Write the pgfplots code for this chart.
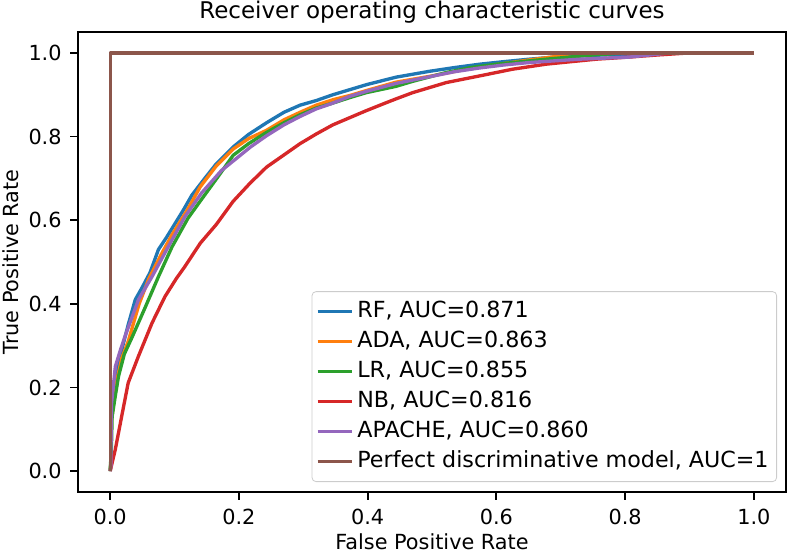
\documentclass[border=0pt]{standalone}
\usepackage{fontspec}
\setmainfont{DejaVu Sans}
\usepackage{pgfplots}
\pgfplotsset{compat=1.18}
\definecolor{c0}{HTML}{1F77B4}
\definecolor{c1}{HTML}{FF7F0E}
\definecolor{c2}{HTML}{2CA02C}
\definecolor{c3}{HTML}{D62728}
\definecolor{c4}{HTML}{9467BD}
\definecolor{c5}{HTML}{8C564B}
\begin{document}
\begin{tikzpicture}
\path[use as bounding box] (-39pt,-30.5pt) rectangle (355pt,246pt);
\begin{axis}[
  scale only axis, width=354pt, height=230pt,
  xmin=-0.05, xmax=1.05, ymin=-0.05, ymax=1.05,
  xtick={0,0.2,0.4,0.6,0.8,1.0}, ytick={0,0.2,0.4,0.6,0.8,1.0},
  tick align=outside, xtick pos=bottom, ytick pos=left,
  major tick length=3.9pt,
  every tick/.style={black, line width=0.9pt},
  axis line style={line width=0.9pt},
  /pgf/number format/assume math mode=true,
  /pgf/number format/.cd, fixed, fixed zerofill, precision=1, /tikz/.cd,
  tick label style={font=\fontsize{10.4}{12.5}\selectfont, inner sep=0pt},
  xticklabel style={anchor=north, yshift=-4.6pt},
  yticklabel style={anchor=east, xshift=-4.1pt},
  every axis title shift=0pt,
  title={Receiver operating characteristic curves},
  title style={at={(axis description cs:0.5,1.029)}, anchor=base, font=\fontsize{11.5}{14}\selectfont},
  xlabel={False Positive Rate},
  xlabel style={at={(axis description cs:0.5,-0.124)}, anchor=base, font=\fontsize{10.4}{12.5}\selectfont},
  ylabel={True Positive Rate},
  ylabel style={at={(axis description cs:-0.0847,0.5)}, anchor=base, font=\fontsize{10.4}{12.5}\selectfont},
  legend style={at={(axis description cs:0.9873,0.0217)}, anchor=south east,
    font=\fontsize{11.1}{13}\selectfont, draw=black!20, rounded corners=2pt,
    fill=white, fill opacity=0.8, text opacity=1, draw opacity=1,
    inner xsep=2pt, inner ysep=2.5pt,
    nodes={text height=8.5pt, text depth=2.5pt, inner ysep=2pt, inner xsep=2pt}},
  legend cell align=left,
  legend image code/.code={\draw[#1, line width=1.67pt] (0pt,0pt) -- (17pt,0pt);},
  every axis plot/.append style={line width=1.67pt, line join=round},
]
\addplot[c0] coordinates {(0,0)(0.001,0.02)(0.002,0.15)(0.008,0.21)(0.018,0.29)(0.028,0.35)(0.039,0.41)(0.05,0.44)(0.062,0.475)(0.075,0.53)(0.088,0.56)(0.10,0.59)(0.114,0.625)(0.127,0.66)(0.147,0.70)(0.165,0.735)(0.191,0.775)(0.215,0.805)(0.243,0.833)(0.27,0.858)(0.295,0.875)(0.32,0.886)(0.346,0.90)(0.372,0.912)(0.398,0.924)(0.444,0.942)(0.496,0.956)(0.535,0.965)(0.574,0.973)(0.611,0.979)(0.651,0.985)(0.69,0.99)(0.729,0.993)(0.80,0.997)(0.90,1)(1,1)};
\addlegendentry{RF, AUC=0.871}
\addplot[c1] coordinates {(0,0)(0.001,0.02)(0.002,0.12)(0.008,0.20)(0.018,0.27)(0.028,0.31)(0.045,0.40)(0.06,0.46)(0.08,0.52)(0.096,0.565)(0.12,0.625)(0.14,0.68)(0.165,0.73)(0.191,0.77)(0.215,0.795)(0.243,0.815)(0.27,0.84)(0.295,0.858)(0.32,0.875)(0.346,0.888)(0.372,0.898)(0.398,0.91)(0.444,0.93)(0.50,0.945)(0.55,0.96)(0.60,0.972)(0.65,0.983)(0.70,0.993)(0.72,1.0)(1,1)};
\addlegendentry{ADA, AUC=0.863}
\addplot[c2] coordinates {(0,0)(0.002,0.06)(0.003,0.13)(0.008,0.18)(0.013,0.227)(0.022,0.28)(0.034,0.32)(0.054,0.39)(0.075,0.465)(0.096,0.536)(0.121,0.605)(0.142,0.65)(0.168,0.705)(0.191,0.755)(0.215,0.783)(0.243,0.81)(0.27,0.833)(0.295,0.852)(0.32,0.868)(0.346,0.88)(0.372,0.893)(0.398,0.905)(0.444,0.92)(0.47,0.932)(0.522,0.953)(0.56,0.965)(0.60,0.973)(0.677,0.985)(0.75,0.995)(0.80,1)(1,1)};
\addlegendentry{LR, AUC=0.855}
\addplot[c3] coordinates {(0,0)(0.008,0.052)(0.018,0.132)(0.028,0.211)(0.044,0.275)(0.065,0.354)(0.085,0.417)(0.103,0.461)(0.116,0.489)(0.14,0.545)(0.165,0.59)(0.191,0.645)(0.217,0.688)(0.243,0.727)(0.269,0.755)(0.295,0.783)(0.32,0.806)(0.346,0.828)(0.372,0.845)(0.398,0.862)(0.424,0.878)(0.444,0.89)(0.47,0.905)(0.522,0.929)(0.574,0.945)(0.625,0.961)(0.677,0.973)(0.755,0.985)(0.806,0.99)(0.85,0.995)(0.90,1)(1,1)};
\addlegendentry{NB, AUC=0.816}
\addplot[c4] coordinates {(0,0)(0.001,0.01)(0.002,0.16)(0.008,0.25)(0.016,0.29)(0.023,0.322)(0.044,0.41)(0.065,0.465)(0.09,0.536)(0.116,0.608)(0.142,0.665)(0.173,0.719)(0.194,0.745)(0.218,0.775)(0.243,0.802)(0.27,0.828)(0.295,0.848)(0.32,0.866)(0.346,0.88)(0.372,0.896)(0.398,0.908)(0.444,0.927)(0.496,0.943)(0.535,0.955)(0.574,0.964)(0.611,0.971)(0.651,0.977)(0.729,0.985)(0.806,0.99)(0.87,1)(1,1)};
\addlegendentry{APACHE, AUC=0.860}
\addplot[c5] coordinates {(0,0)(0,1)(1,1)};
\addlegendentry{Perfect discriminative model, AUC=1}
\end{axis}
\end{tikzpicture}
\end{document}
